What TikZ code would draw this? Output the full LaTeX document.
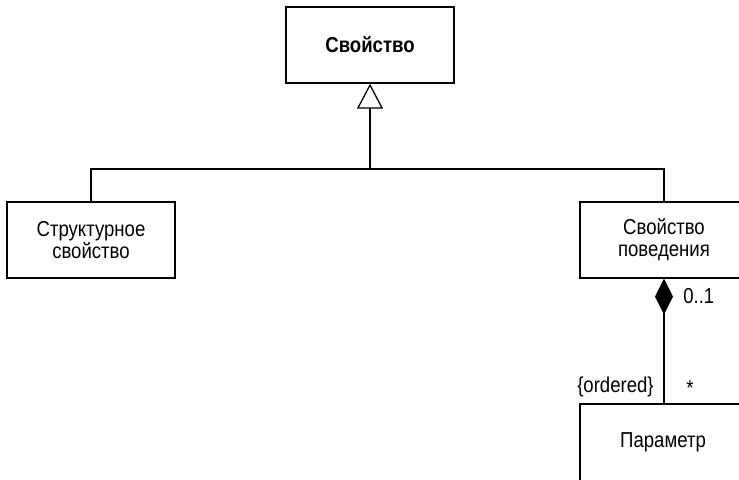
\documentclass[tikz,border=0pt]{standalone}
\usepackage{fontspec}
\setmainfont{Liberation Sans}[FakeStretch=0.86]
\usetikzlibrary{arrows.meta}
\tikzset{cls/.style={draw, line width=0.65pt, minimum width=84pt, minimum height=38pt, align=center, font=\fontsize{10.8}{11}\selectfont}}
\begin{document}
\begin{tikzpicture}[x=0.5pt,y=-0.5pt, line width=0.65pt]
\useasboundingbox (0,0) rectangle (739,480);
\clip (0,0) rectangle (739,480);
%\draw [help lines] (0,0) grid[step=50] (739,480);
\node [cls] (prop) at (370,45) {\textbf{Свойство}};
\node [cls] (struct) at (91,240) {Структурное\\свойство};
\node [cls] (behav) at (664,240) {Свойство\\поведения};
\node [cls, minimum height=60pt] (param) at (664,464) {};
\node at (663,442) [font=\fontsize{10.8}{11}\selectfont] (ptext) {Параметр};
\coordinate (gen) at (370,169);
\draw (struct.north) |- (gen) -| (behav.north);
\draw [-{Triangle[open, length=12.5pt, width=13pt, fill=white]}] (gen)--(prop.south);
\draw [{Diamond[length=18pt, width=9pt]}-] (behav.south)--(param.north);
\node [right, font=\fontsize{10.8}{11}\selectfont] (mult) at (676,296) {0..1};
\node [left, font=\fontsize{10.8}{11}\selectfont] (ord) at (661,387) {\{ordered\}};
\node [font=\fontsize{10.8}{11}\selectfont] (star) at (690,388) {*};
\end{tikzpicture}
\end{document}
